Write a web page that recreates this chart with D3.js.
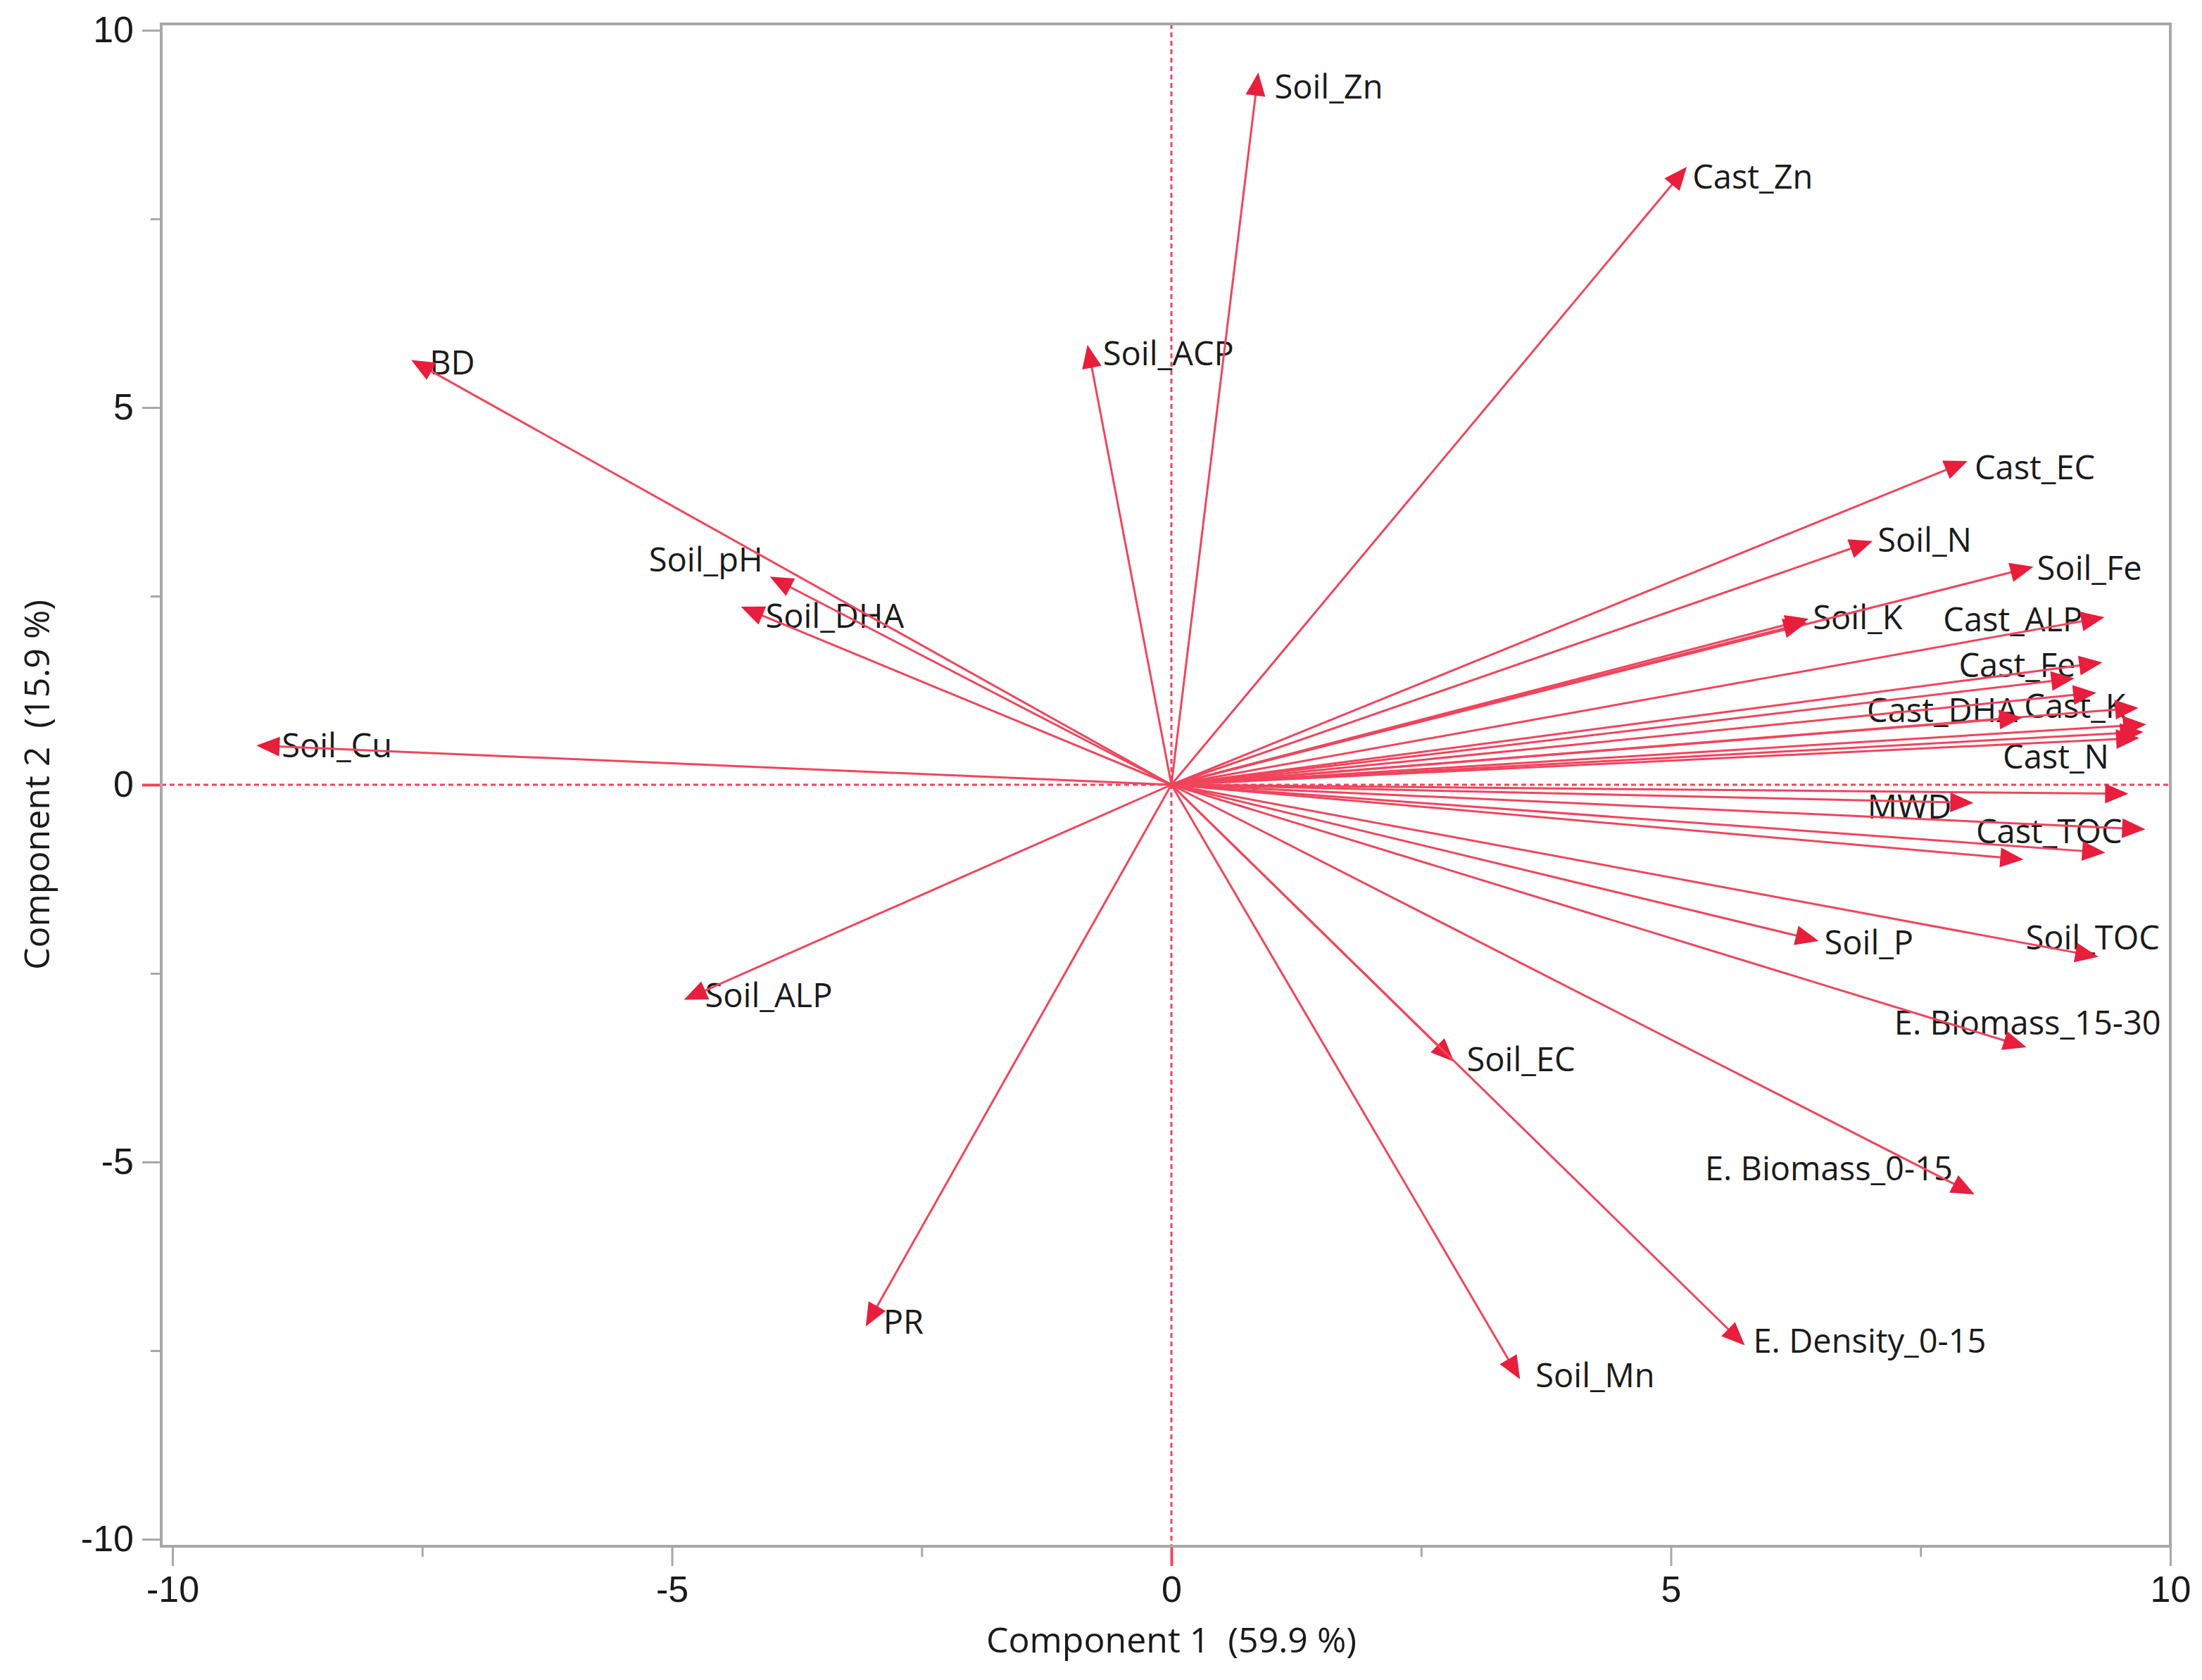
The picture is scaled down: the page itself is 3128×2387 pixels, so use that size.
<!DOCTYPE html>
<html>
<head>
<meta charset="utf-8">
<script src="https://cdn.jsdelivr.net/npm/d3@7"></script>
<style>
  html, body { margin: 0; padding: 0; background: #ffffff; }
  svg { display: block; }
</style>
</head>
<body>
<svg id="chart" width="3128" height="2387"></svg>
<script>
// ---------------- DATA ----------------
// Loading vectors (Component 1, Component 2). Empty label = arrow drawn without a label (hidden in original).
const variables = [
  "Soil_Zn", "Cast_Zn", "BD", "Soil_ACP", "Soil_pH", "Soil_DHA", "Soil_Cu", "Soil_ALP",
  "PR", "Soil_EC", "Soil_Mn", "E. Density_0-15", "E. Biomass_0-15", "E. Biomass_15-30",
  "Soil_TOC", "Soil_P", "Cast_EC", "Soil_N", "Soil_Fe", "Soil_K", "", "Cast_ALP",
  "Cast_Fe", "", "", "Cast_K", "Cast_DHA", "Cast_N", "", "", "", "MWD", "Cast_TOC", "", ""
];
const comp1 = [
  0.87, 5.16, -7.61, -0.84, -4.02, -4.31, -9.16, -4.88,
  -3.06, 2.83, 3.49, 5.74, 8.04, 8.56,
  9.28, 6.48, 7.97, 7.02, 8.63, 6.38, 6.36, 9.34,
  9.32, 9.04, 9.26, 9.68, 8.52, 9.76, 9.73, 9.69, 9.58, 8.03, 9.75, 9.35, 8.53
];
const comp2 = [
  9.44, 8.19, 5.63, 5.83, 2.76, 2.36, 0.52, -2.85,
  -7.18, -3.67, -7.88, -7.43, -5.43, -3.48,
  -2.28, -2.07, 4.29, 3.23, 2.89, 2.20, 2.15, 2.22,
  1.62, 1.41, 1.22, 1.02, 0.89, 0.80, 0.70, 0.62, -0.12, -0.24, -0.59, -0.90, -0.99
];
const xMajorTicks = [-10, -5, 0, 5, 10];
const yMajorTicks = [-10, -5, 0, 5, 10];
const xMinorTicks = [-7.5, -2.5, 2.5, 7.5];
const yMinorTicks = [-7.5, -2.5, 2.5, 7.5];
const xTitle = "Component 1  (59.9 %)";
const yTitle = "Component 2  (15.9 %)";

// ---------------- LAYOUT (label placement relative to arrow tip, px) ----------------
const labelLayout = {
  "Soil_Zn": ["start", 23, 20], "Cast_Zn": ["start", 8, 14], "BD": ["start", 26, 4],
  "Soil_ACP": ["start", 22, 12], "Soil_pH": ["end", -10, -24], "Soil_DHA": ["start", 35, 13],
  "Soil_Cu": ["start", 36, 0], "Soil_ALP": ["start", 30, -7], "PR": ["start", 25, -7],
  "Soil_EC": ["start", 18, -3], "Soil_Mn": ["start", 22, -6], "E. Density_0-15": ["start", 12, -6],
  "E. Biomass_0-15": ["end", -31, -37], "E. Biomass_15-30": ["end", 191, -35],
  "Soil_TOC": ["end", 87, -27], "Soil_P": ["start", 8, 2], "Cast_EC": ["start", 10, 9],
  "Soil_N": ["start", 7, -2], "Soil_Fe": ["start", 5, 2], "Soil_K": ["start", 6, -2],
  "Cast_ALP": ["end", -31, 3], "Cast_Fe": ["end", -38, 4], "Cast_DHA": ["end", -7, -11],
  "Cast_K": ["end", -18, -3], "Cast_N": ["end", -53, 46], "MWD": ["end", -31, 5],
  "Cast_TOC": ["end", -33, 3]
};

const frame = { left: 229, right: 3083, top: 34, bottom: 2197 };
const labelFont = "'Open Sans', 'Noto Sans', sans-serif";
const tickFont = "'Liberation Sans', Arial, sans-serif";
const red = "#e81e3c";
const lineRed = "#f0455c";
const axisGray = "#a8a8a8";

// ---------------- SCALES ----------------
const x = d3.scaleLinear().domain([-10, 10]).range([245, 3083]);
const y = d3.scaleLinear().domain([-10, 10]).range([2187, 43]);

const svg = d3.select("#chart");
svg.append("rect").attr("width", 3128).attr("height", 2387).attr("fill", "#fff");

// dashed reference lines at zero
svg.append("line")
  .attr("x1", x(0)).attr("x2", x(0)).attr("y1", frame.top).attr("y2", frame.bottom)
  .attr("stroke", lineRed).attr("stroke-width", 3).attr("stroke-dasharray", "7,5");
svg.append("line")
  .attr("x1", frame.left).attr("x2", frame.right).attr("y1", y(0)).attr("y2", y(0))
  .attr("stroke", lineRed).attr("stroke-width", 3).attr("stroke-dasharray", "7,5");

// axes
const fmt = d => String(d);
const xAxis = d3.axisBottom(x).tickValues(xMajorTicks).tickSize(28).tickPadding(14).tickFormat(fmt);
const xAxisMinor = d3.axisBottom(x).tickValues(xMinorTicks).tickSize(15).tickFormat("");
const yAxis = d3.axisLeft(y).tickValues(yMajorTicks).tickSize(27).tickPadding(12).tickFormat(fmt);
const yAxisMinor = d3.axisLeft(y).tickValues(yMinorTicks).tickSize(15).tickFormat("");

function styleAxis(g) {
  g.select(".domain").remove();
  g.selectAll(".tick line").attr("stroke", axisGray).attr("stroke-width", 3);
  g.selectAll(".tick text")
    .attr("font-family", tickFont).attr("font-size", 52).attr("fill", "#1a1a1a");
  g.selectAll(".tick").filter(d => d === 0).select("line").attr("stroke", lineRed).attr("stroke-width", 4);
}
svg.append("g").attr("transform", `translate(0,${frame.bottom})`).call(xAxis).call(styleAxis)
  .selectAll(".tick text").attr("dy", "0.72em");
svg.append("g").attr("transform", `translate(0,${frame.bottom})`).call(xAxisMinor).call(styleAxis);
svg.append("g").attr("transform", `translate(${frame.left},0)`).call(yAxis).call(styleAxis);
svg.append("g").attr("transform", `translate(${frame.left},0)`).call(yAxisMinor).call(styleAxis);

// frame
svg.append("rect")
  .attr("x", frame.left).attr("y", frame.top)
  .attr("width", frame.right - frame.left).attr("height", frame.bottom - frame.top)
  .attr("fill", "none").attr("stroke", axisGray).attr("stroke-width", 4);

// axis titles
svg.append("text")
  .attr("x", x(0)).attr("y", 2348)
  .attr("text-anchor", "middle")
  .attr("font-family", labelFont).attr("font-size", 50).attr("fill", "#1a1a1a")
  .style("white-space", "pre")
  .text(xTitle);
svg.append("text")
  .attr("transform", `translate(70,${y(0)}) rotate(-90)`)
  .attr("text-anchor", "middle")
  .attr("font-family", labelFont).attr("font-size", 50).attr("fill", "#1a1a1a")
  .style("white-space", "pre")
  .text(yTitle);

// ---------------- ARROWS ----------------
const data = variables.map((name, i) => ({ name, c1: comp1[i], c2: comp2[i] }));
const ox = x(0), oy = y(0);
const headLen = 33, headHalf = 14;

const labelsG = svg.append("g");
const arrowsG = svg.append("g");

data.forEach(d => {
  const tx = x(d.c1), ty = y(d.c2);
  const dx = tx - ox, dy = ty - oy;
  const len = Math.hypot(dx, dy);
  const ux = dx / len, uy = dy / len;
  const bx = tx - ux * headLen, by = ty - uy * headLen;
  arrowsG.append("line")
    .attr("x1", ox).attr("y1", oy).attr("x2", bx + ux * 4).attr("y2", by + uy * 4)
    .attr("stroke", lineRed).attr("stroke-width", 3);
  const p1 = [tx, ty];
  const p2 = [bx - uy * headHalf, by + ux * headHalf];
  const p3 = [bx + uy * headHalf, by - ux * headHalf];
  arrowsG.append("path")
    .attr("d", `M${p1[0]},${p1[1]}L${p2[0]},${p2[1]}L${p3[0]},${p3[1]}Z`)
    .attr("fill", red);
  if (d.name && labelLayout[d.name]) {
    const [anchor, ldx, ldy] = labelLayout[d.name];
    labelsG.append("text")
      .attr("x", tx + ldx).attr("y", ty + ldy + 17)
      .attr("text-anchor", anchor)
      .attr("font-family", labelFont).attr("font-size", 47).attr("fill", "#1a1a1a")
      .text(d.name);
  }
});
</script>
</body>
</html>
